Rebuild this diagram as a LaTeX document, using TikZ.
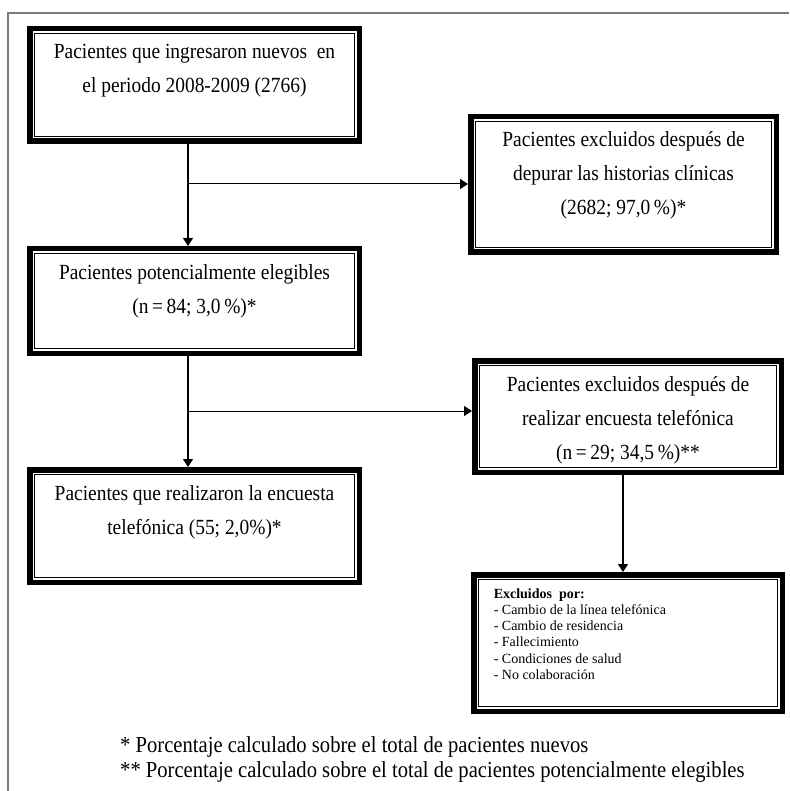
\documentclass[tikz,border=0pt]{standalone}
\usepackage{fontspec}
\setmainfont{Liberation Serif}
\newfontfamily\estrecha{Liberation Serif}[FakeStretch=0.9]
\usepackage{tikz}
\usetikzlibrary{positioning,arrows.meta}
\definecolor{marco}{HTML}{7a7a7a}

\begin{document}
\begin{tikzpicture}[x=1pt, y=-1pt,
  caja/.style={draw, line width=5.5pt, outer sep=2.75pt, inner sep=0pt,
               font=\estrecha\fontsize{21.6}{34}\selectfont},
  flecha/.style={-{Triangle[length=8pt,width=10pt]}, line width=1.5pt},
  rama/.style={flecha, line width=1pt},
  nota/.style={anchor=base west, inner sep=0pt, font=\estrecha\fontsize{22.9}{24}\selectfont}]
\useasboundingbox (0,0) rectangle (789,791);
\draw[draw=marco, line width=1.5pt] (8,791) -- (8,13) -- (789,13);

% columna izquierda
\node[caja, anchor=north west] (ingreso) at (27,26)
  {\parbox[c][112.5pt][t]{329.5pt}{\centering\rule{0pt}{30.25pt}Pacientes que ingresaron nuevos~ en\\
   el periodo 2008-2009 (2766)}};
\node[caja, below=102pt of ingreso] (eleg)
  {\parbox[c][104.5pt][t]{329.5pt}{\centering\rule{0pt}{30.25pt}Pacientes potencialmente elegibles\\
   (n\,=\,84; 3,0\,\%)*}};
\node[caja, below=111pt of eleg] (encuesta)
  {\parbox[c][112.5pt][t]{329.5pt}{\centering\rule{0pt}{30.25pt}Pacientes que realizaron la encuesta\\
   telefónica (55; 2,0\%)*}};

% columna derecha
\node[caja, anchor=north west] (depura) at (468,114)
  {\parbox[c][135.5pt][t]{305.5pt}{\centering\rule{0pt}{30.25pt}Pacientes excluidos después de\\
   depurar las historias clínicas\\ (2682; 97,0\,\%)*}};
\node[caja, anchor=north west] (tele) at (472,358)
  {\parbox[c][111.5pt][t]{306.5pt}{\centering\rule{0pt}{30.25pt}Pacientes excluidos después de\\
   realizar encuesta telefónica\\ (n\,=\,29; 34,5\,\%)**}};
\node[caja, below=97pt of tele, font=\rmfamily\fontsize{14}{16.3}\selectfont] (motivos)
  {\parbox[c][136.5pt][t]{308.5pt}{\raggedright\leftskip=20pt\relax
   \rule{0pt}{23.25pt}\textbf{Excluidos~ por:}\\
   - Cambio de la línea telefónica\\
   - Cambio de residencia\\
   - Fallecimiento\\
   - Condiciones de salud\\
   - No colaboración}};

% linea fina interior
\foreach \n in {ingreso,eleg,encuesta,depura,tele,motivos}
  \draw[line width=1.2pt] ([shift={(7.6pt,-7.6pt)}]\n.north west) rectangle ([shift={(-7.6pt,7.6pt)}]\n.south east);

\coordinate (r1) at (188,184);
\coordinate (r2) at (188,411);
\draw[flecha] (ingreso.south -| r1) -- (eleg.north -| r1);
\draw[rama] (r1) -- (r1 -| depura.west);
\draw[flecha] (eleg.south -| r2) -- (encuesta.north -| r2);
\draw[rama] (r2) -- (r2 -| tele.west);
\draw[flecha] ([xshift=-5pt]tele.south) -- ([xshift=-5pt]tele.south |- motivos.north);

\node[nota] (nota1) at (120,752) {* Porcentaje calculado sobre el total de pacientes nuevos};
\node[nota] (nota2) at (120,777) {** Porcentaje calculado sobre el total de pacientes potencialmente elegibles};
\end{tikzpicture}
\end{document}
